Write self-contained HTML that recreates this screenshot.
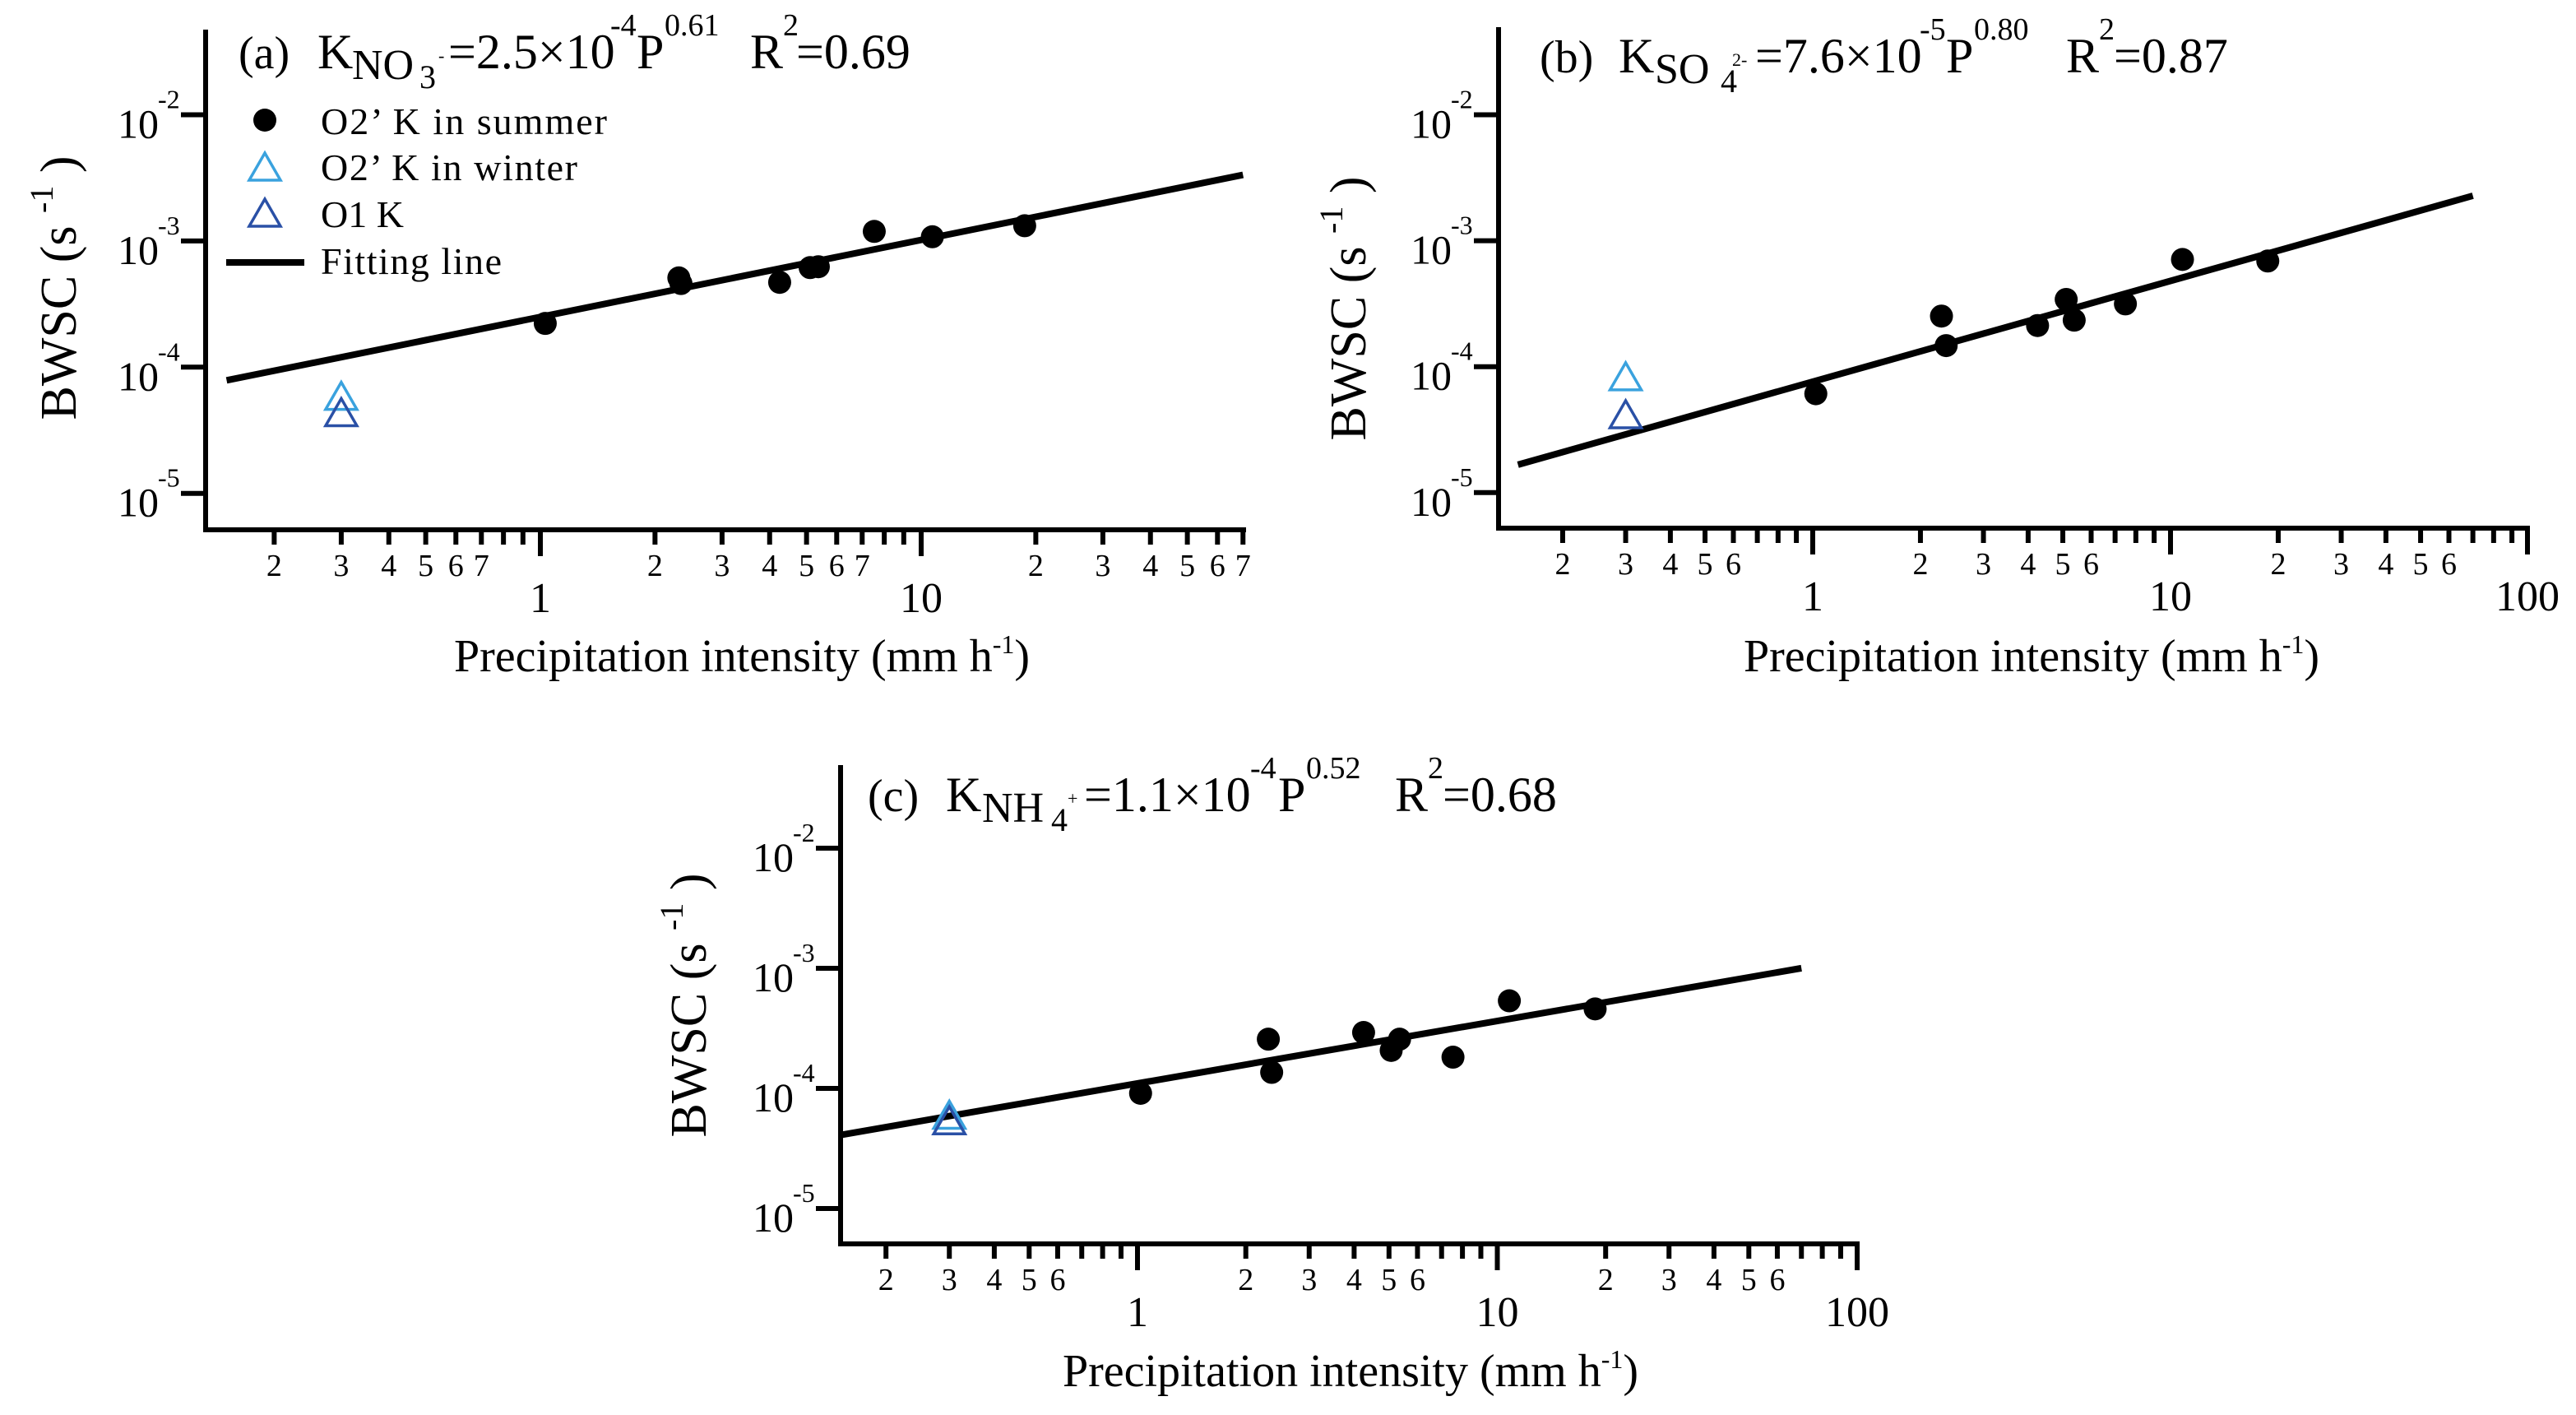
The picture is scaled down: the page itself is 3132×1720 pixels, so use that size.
<!DOCTYPE html>
<html><head><meta charset="utf-8"><style>
html,body{margin:0;padding:0;background:#fff;}
svg, svg text, svg tspan{font-family:"Liberation Serif","Times New Roman",serif;}
</style></head><body>
<svg id="chart" width="3132" height="1715" viewBox="0 0 3132 1715" xmlns="http://www.w3.org/2000/svg" font-family="Liberation Serif, serif">
<g id="panels"></g>
</svg>
<script>
// ---- data ----
const aSummerP = [1.03, 2.31, 2.34, 4.25, 5.11, 5.37, 7.53, 10.7, 18.7];
const aSummerK = [2.22e-4, 5.1e-4, 4.6e-4, 4.7e-4, 6.15e-4, 6.25e-4, 1.19e-3, 1.08e-3, 1.32e-3];
const aWinterP = [0.30];
const aWinterK = [5.8e-5];
const aO1P = [0.30];
const aO1K = [4.3e-5];
const aFit = [2.5e-4, 0.61];

const bSummerP = [1.02, 2.29, 2.36, 4.25, 5.11, 5.38, 7.48, 10.8, 18.7];
const bSummerK = [6.1e-5, 2.52e-4, 1.47e-4, 2.12e-4, 3.42e-4, 2.34e-4, 3.15e-4, 7.1e-4, 6.9e-4];
const bWinterP = [0.30];
const bWinterK = [8.2e-5];
const bO1P = [0.30];
const bO1K = [4.1e-5];
const bFit = [7.6e-5, 0.80];

const cSummerP = [1.02, 2.31, 2.36, 4.25, 5.07, 5.35, 7.53, 10.8, 18.7];
const cSummerK = [9.1e-5, 2.57e-4, 1.36e-4, 2.92e-4, 2.07e-4, 2.57e-4, 1.82e-4, 5.36e-4, 4.59e-4];
const cWinterP = [0.30];
const cWinterK = [5.9e-5];
const cO1P = [0.30];
const cO1K = [5.3e-5];
const cFit = [1.1e-4, 0.52];

const yTickExps = [-2, -3, -4, -5];
const aMinorLabels = [2,3,4,5,6,7];
const bMinorLabels = [2,3,4,5,6];
const cMinorLabels = [2,3,4,5,6];
const fitRange = [0.15, 70];

const NS = "http://www.w3.org/2000/svg";
const root = document.getElementById('panels');
function el(tag, attrs, parent, text){
  const e = document.createElementNS(NS, tag);
  for (const k in attrs) e.setAttribute(k, attrs[k]);
  if (text !== undefined) e.textContent = text;
  (parent||root).appendChild(e);
  return e;
}

function panel(cfg){
  const g = el('g', {});
  
  
  const X = p => cfg.x1 + (Math.log10(p)) * cfg.xdec;
  const Y = k => cfg.yAt(Math.log10(k));
  const ya = el('line', {x1:cfg.ax, y1:cfg.top, x2:cfg.ax, y2:cfg.bot, stroke:'#000','stroke-width':6}, g);
  
  
  const xa = el('line', {x1:cfg.ax-3, y1:cfg.bot, x2:cfg.xright+3, y2:cfg.bot, stroke:'#000','stroke-width':6}, g);
  
  
  yTickExps.forEach(e => {
    const y = cfg.yAt(e);
    const t = el('line', {x1:cfg.ax-30, y1:y, x2:cfg.ax, y2:y, stroke:'#000','stroke-width':6}, g);
    
    
    const lb = el('text', {x:cfg.ax-82, y:y+28, 'font-size':50, 'text-anchor':'middle'}, g, '10');
    
    
    const sp = el('text', {x:cfg.ax-58, y:y-8, 'font-size':32}, g, String(e));
    
    
  });
  for (let d = -1; d <= 1; d++) {
    for (let m = 1; m <= 9; m++) {
      const v = m * Math.pow(10, d);
      const x = X(v);
      if (x < cfg.ax + 5 || x > cfg.xright + 1) continue;
      const major = (m === 1);
      const t = el('line', {x1:x, y1:cfg.bot, x2:x, y2:cfg.bot + (major?32:18), stroke:'#000','stroke-width':6}, g);
      
      
      if (major) {
        const lb = el('text', {x:x, y:cfg.bot+100, 'font-size':52, 'text-anchor':'middle'}, g, String(v));
        
        
      } else if (cfg.minorLabels.indexOf(m) >= 0) {
        const lb = el('text', {x:x, y:cfg.bot+56, 'font-size':38, 'text-anchor':'middle'}, g, String(m));
        
        
      }
    }
  }
  if (cfg.show100) {
    const lb = el('text', {x:cfg.xright, y:cfg.bot+100, 'font-size':52, 'text-anchor':'middle'}, g, '100');
    
    
    const t = el('line', {x1:cfg.xright, y1:cfg.bot, x2:cfg.xright, y2:cfg.bot+32, stroke:'#000','stroke-width':6}, g);
    
    
  }
  const xt = el('text', {x:cfg.xtx, y:cfg.xty, 'font-size':56, 'text-anchor':'middle'}, g);
  
  
  el('tspan', {}, xt, 'Precipitation intensity (mm h');
  el('tspan', {'font-size':32, dy:-22}, xt, '-1');
  el('tspan', {dy:22}, xt, ')');
  const yt = el('text', {transform:`translate(${cfg.ytx},${cfg.yty}) rotate(-90)`, 'font-size':62, 'text-anchor':'middle'}, g);
  
  
  el('tspan', {}, yt, 'BWSC  (s ');
  el('tspan', {'font-size':40, dy:-28}, yt, '-1');
  el('tspan', {dy:28}, yt, ' )');
  const fl = el('line', {x1:X(fitRange[0]), y1:Y(cfg.fit[0]*Math.pow(fitRange[0],cfg.fit[1])),
    x2:X(fitRange[1]), y2:Y(cfg.fit[0]*Math.pow(fitRange[1],cfg.fit[1])), stroke:'#000','stroke-width':8}, g);
  
  
  cfg.sp.forEach((p,i) => {
    const c = el('ellipse', {cx:X(p), cy:Y(cfg.sk[i]), rx:14, ry:14, fill:'#000'}, g);
    
    
  });
  const tri = (x,y,col,name) => {
    const t = el('polygon', {points:`${x},${y-18} ${x-19},${y+15} ${x+19},${y+15}`, fill:'none', stroke:col,'stroke-width':3.5}, g);
    
    
  };
  cfg.wp.forEach((p,i) => tri(X(p), Y(cfg.wk[i]), '#3aa2de', 'winter-point'));
  cfg.op.forEach((p,i) => tri(X(p), Y(cfg.ok[i]), '#2a50a6', 'o1-point'));
  const tt = el('g', {}, g);
  
  
  cfg.title.forEach(s => el('text', {x:s[0], y:cfg.tb + s[1], 'font-size':s[2]}, tt, s[3]));
  return g;
}

function titleParts(lbl, ion, sub, chg, coef, exp, pw, r2, xs){
  return [
    [xs[0], 0, 56, lbl], [xs[1], 0, 60, 'K'], [xs[2], 13, 52, ion], [xs[3], 24, 40, sub],
    [xs[4], -8, 22, chg], [xs[5], 0, 60, coef], [xs[6], -40, 38, exp], [xs[7], 0, 60, 'P'],
    [xs[8], -40, 38, pw], [xs[9], 0, 60, 'R'], [xs[10], -40, 38, '2'], [xs[11], 0, 60, r2]
  ];
}

panel({id:'a', ax:250, top:36, bot:644, xright:1512, x1:657, xdec:463,
  yAt: e => 139.5 + (-2 - e) * 153.4, minorLabels:aMinorLabels, show100:false,
  xtx:902, xty:816, ytx:92, yty:350, fit:aFit,
  sp:aSummerP, sk:aSummerK, wp:aWinterP, wk:aWinterK, op:aO1P, ok:aO1K, tb:83,
  title: titleParts('(a)', 'NO', '3', '-', '=2.5×10', '-4', '0.61', '=0.69',
    [290, 386, 428, 510, 533, 545, 742, 774, 808, 912, 952, 968])});
panel({id:'b', ax:1822, top:33, bot:642, xright:3073, x1:2204, xdec:435,
  yAt: e => 139.5 + (-2 - e) * 153.1, minorLabels:bMinorLabels, show100:true,
  xtx:2470, xty:816, ytx:1660, yty:375, fit:bFit,
  sp:bSummerP, sk:bSummerK, wp:bWinterP, wk:bWinterK, op:bO1P, ok:bO1K, tb:88,
  title: titleParts('(b)', 'SO', '4', '2-', '=7.6×10', '-5', '0.80', '=0.87',
    [1872, 1968, 2012, 2092, 2106, 2134, 2334, 2366, 2400, 2512, 2552, 2570])});
panel({id:'c', ax:1022, top:930, bot:1512, xright:2258, x1:1383, xdec:437.5,
  yAt: e => 1031 + (-2 - e) * 146, minorLabels:cMinorLabels, show100:true,
  xtx:1642, xty:1685, ytx:858, yty:1222, fit:cFit,
  sp:cSummerP, sk:cSummerK, wp:cWinterP, wk:cWinterK, op:cO1P, ok:cO1K, tb:986,
  title: titleParts('(c)', 'NH', '4', '+', '=1.1×10', '-4', '0.52', '=0.68',
    [1055, 1150, 1194, 1278, 1298, 1318, 1520, 1554, 1588, 1696, 1736, 1754])});

const lg = el('g', {});


const e1 = el('ellipse', {cx:322, cy:146, rx:14, ry:14, fill:'#000'}, lg);


const t1 = el('text', {x:390, y:163, 'font-size':46, textLength:348}, lg, 'O2’ K in summer');


const p2 = el('polygon', {points:'322,186 303,219 341,219', fill:'none', stroke:'#3aa2de','stroke-width':3.5}, lg);


const t2 = el('text', {x:390, y:219, 'font-size':46, textLength:312}, lg, 'O2’ K in winter');


const p3 = el('polygon', {points:'322,242 303,275 341,275', fill:'none', stroke:'#2a50a6','stroke-width':3.5}, lg);


const t3 = el('text', {x:390, y:276, 'font-size':46}, lg, 'O1 K');


const l4 = el('line', {x1:275, y1:319, x2:370, y2:319, stroke:'#000','stroke-width':8}, lg);


const t4 = el('text', {x:390, y:333, 'font-size':46, textLength:220}, lg, 'Fitting line');


</script>
</body></html>
